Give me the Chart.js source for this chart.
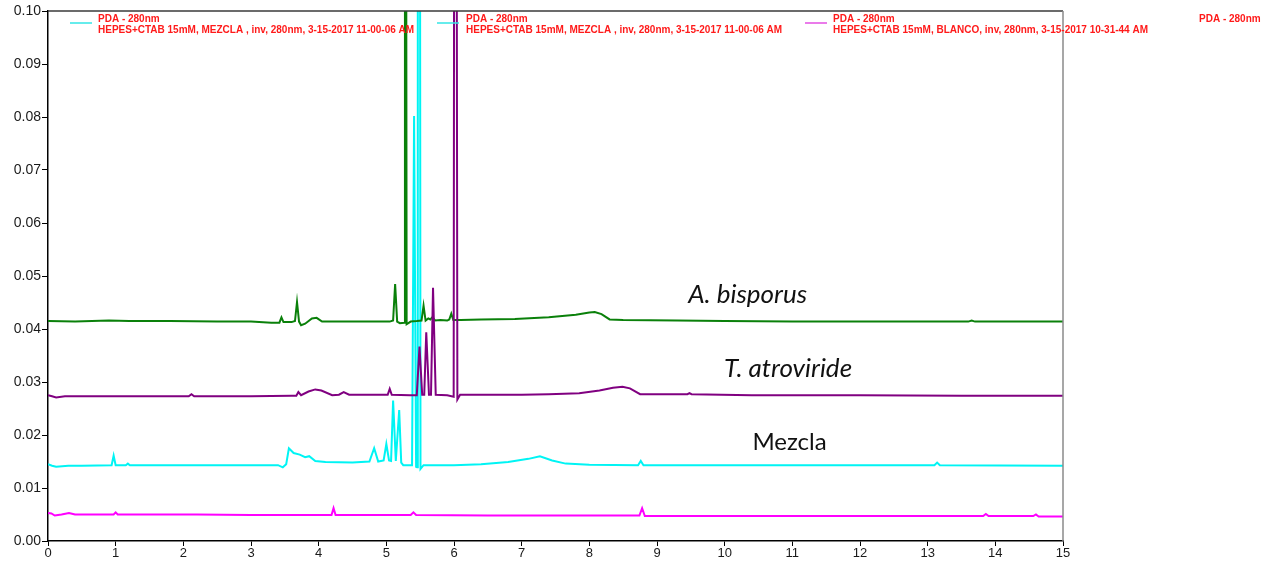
<!DOCTYPE html>
<html>
<head>
<meta charset="utf-8">
<script src="https://cdn.jsdelivr.net/npm/chart.js@4.4.1/dist/chart.umd.min.js"></script>
<style>
  html, body { margin: 0; padding: 0; background: #fff; }
  #wrap { width: 1264px; height: 563px; }
</style>
</head>
<body>
<div id="wrap"><canvas id="crom" width="1264" height="563"></canvas></div>
<script>
// retention time (min) / absorbance (AU) at 280 nm

// A. bisporus
let abTime = [0, 0.4, 0.9, 1.2, 1.8, 2.5, 3.0, 3.3, 3.42, 3.45, 3.48, 3.6, 3.65, 3.68, 3.71, 3.74, 3.8, 3.9, 3.97, 4.05,
  4.5, 5.05, 5.1, 5.13, 5.16, 5.2, 5.265, 5.275, 5.29, 5.30, 5.36, 5.45, 5.52, 5.55, 5.58, 5.62, 5.65, 5.68, 5.72, 5.8,
  5.9, 5.93, 5.96, 5.99, 6.1, 6.4, 6.9, 7.4, 7.8, 8.0, 8.08, 8.18, 8.3, 8.5, 9.3, 10, 11, 12, 13, 13.6,
  13.65, 13.7, 14.5, 15];
let abVal = [0.0415, 0.0414, 0.0416, 0.0415, 0.0415, 0.0414, 0.0414, 0.0412, 0.0412, 0.0422, 0.0413, 0.0413, 0.0415, 0.0451, 0.0414, 0.0407, 0.0410, 0.0420, 0.0421, 0.0414,
  0.0414, 0.0414, 0.0416, 0.0485, 0.0414, 0.0411, 0.0412, 0.16, 0.16, 0.0409, 0.0414, 0.0415, 0.0416, 0.0444, 0.0416, 0.0420, 0.0418, 0.0422, 0.0416, 0.0417,
  0.0416, 0.0418, 0.0429, 0.0417, 0.0417, 0.0418, 0.0419, 0.0422, 0.0427, 0.0431, 0.0432, 0.0428, 0.0418, 0.0417, 0.0416, 0.0415, 0.0414, 0.0414, 0.0414, 0.0414,
  0.0416, 0.0414, 0.0414, 0.0414];

// T. atroviride
let taTime = [0, 0.06, 0.12, 0.25, 1.0, 2.08, 2.12, 2.16, 3.0, 3.6, 3.67, 3.70, 3.74, 3.85, 3.95, 4.04, 4.2, 4.3, 4.37, 4.45,
  4.9, 5.02, 5.05, 5.08, 5.35, 5.45, 5.49, 5.53, 5.56, 5.59, 5.63, 5.66, 5.69, 5.73, 5.9, 5.995, 6.005, 6.035, 6.05, 6.09,
  6.3, 7.0, 7.4, 7.85, 8.15, 8.35, 8.49, 8.6, 8.75, 9.45, 9.48, 9.51, 10.4, 12, 13.5, 15];
let taVal = [0.0275, 0.0273, 0.0271, 0.0273, 0.0273, 0.0273, 0.0277, 0.0273, 0.0273, 0.0274, 0.0274, 0.0281, 0.0275, 0.0282, 0.0286, 0.0284, 0.0275, 0.0276, 0.0281, 0.0276,
  0.0276, 0.0276, 0.0287, 0.0276, 0.0275, 0.0275, 0.0367, 0.0276, 0.0276, 0.0394, 0.0276, 0.0276, 0.0478, 0.0276, 0.0275, 0.0272, 0.16, 0.16, 0.0267, 0.0276,
  0.0276, 0.0276, 0.0277, 0.0279, 0.0284, 0.0289, 0.0291, 0.0288, 0.0277, 0.0277, 0.0279, 0.0277, 0.0275, 0.0275, 0.0274, 0.0274];

// Mezcla
let mzTime = [0, 0.06, 0.12, 0.3, 0.5, 0.94, 0.97, 1.0, 1.15, 1.18, 1.21, 2.0, 3.0, 3.4, 3.47, 3.52, 3.56, 3.63, 3.72, 3.8,
  3.86, 3.95, 4.1, 4.5, 4.75, 4.82, 4.88, 4.96, 5.0, 5.04, 5.07, 5.10, 5.14, 5.19, 5.22, 5.25, 5.38, 5.41, 5.44, 5.455,
  5.465, 5.495, 5.505, 5.55, 6.0, 6.4, 6.8, 7.1, 7.27, 7.45, 7.65, 8.0, 8.72, 8.76, 8.8, 10, 13.1, 13.14, 13.18, 15];
let mzVal = [0.0145, 0.0142, 0.0140, 0.0142, 0.0142, 0.0143, 0.0161, 0.0143, 0.0143, 0.0146, 0.0143, 0.0143, 0.0143, 0.0143, 0.0139, 0.0145, 0.0175, 0.0166, 0.0163, 0.0158,
  0.0160, 0.0151, 0.0149, 0.0148, 0.0150, 0.0175, 0.0150, 0.0152, 0.0183, 0.0152, 0.0151, 0.0265, 0.0151, 0.0247, 0.0148, 0.0143, 0.0143, 0.0802, 0.0140, 0.0139,
  0.16, 0.16, 0.0136, 0.0143, 0.0143, 0.0145, 0.0149, 0.0155, 0.0160, 0.0152, 0.0146, 0.0144, 0.0143, 0.0151, 0.0143, 0.0143, 0.0143, 0.0148, 0.0143, 0.0142];

// Blanco
let blTime = [0, 0.05, 0.1, 0.2, 0.31, 0.4, 0.6, 0.97, 1.0, 1.03, 1.4, 2.2, 3.0, 4.1, 4.19, 4.22, 4.25, 4.8, 5.36, 5.4,
  5.44, 6.5, 8.0, 8.74, 8.78, 8.82, 9.5, 11, 13.82, 13.86, 13.9, 14.56, 14.6, 14.64, 15];
let blVal = [0.0053, 0.0052, 0.0048, 0.0050, 0.0053, 0.0050, 0.0050, 0.0050, 0.0054, 0.0050, 0.0050, 0.0050, 0.0049, 0.0049, 0.0049, 0.0062, 0.0049, 0.0049, 0.0049, 0.0054,
  0.0049, 0.0048, 0.0048, 0.0048, 0.0062, 0.0047, 0.0047, 0.0047, 0.0047, 0.0051, 0.0047, 0.0047, 0.0050, 0.0046, 0.0046];

let xTicks = [0, 1, 2, 3, 4, 5, 6, 7, 8, 9, 10, 11, 12, 13, 14, 15];
let yTicks = [0.00, 0.01, 0.02, 0.03, 0.04, 0.05, 0.06, 0.07, 0.08, 0.09, 0.10];

// curve names written inside the plot
let tagText = ['A. bisporus', 'T. atroviride', 'Mezcla'];
let tagItalic = [true, true, false];
let tagAt = [[9.46, 0.0464], [9.99, 0.0326], [10.41, 0.0187]];

// instrument legend (pixel positions)
let legTitle = 'PDA - 280nm';
let legRows = [
  { line: '#33e6e6', x: 70, tx: 98, sub: 'HEPES+CTAB 15mM, MEZCLA , inv, 280nm, 3-15-2017 11-00-06 AM' },
  { line: '#33e6e6', x: 437, tx: 466, sub: 'HEPES+CTAB 15mM, MEZCLA , inv, 280nm, 3-15-2017 11-00-06 AM' },
  { line: '#e34fe3', x: 805, tx: 833, sub: 'HEPES+CTAB 15mM, BLANCO, inv, 280nm, 3-15-2017 10-31-44 AM' },
  { line: null, x: 0, tx: 1199, sub: '' }
];

function pts(t, v) {
  return t.map((x, i) => ({ x: x, y: v[i] }));
}

function trace(data, color) {
  return {
    data: data,
    borderColor: color,
    borderWidth: 2,
    pointRadius: 0,
    tension: 0,
    fill: false
  };
}

const frame = {
  id: 'frame',
  afterDraw(chart) {
    const c = chart.ctx, a = chart.chartArea;
    c.save();
    c.lineWidth = 1.5;
    c.strokeStyle = '#3a3a3a';
    c.beginPath();
    c.moveTo(a.left, a.top);
    c.lineTo(a.right, a.top);
    c.stroke();
    c.strokeStyle = '#8a8a8a';
    c.beginPath();
    c.moveTo(a.right, a.top);
    c.lineTo(a.right, a.bottom);
    c.stroke();
    c.restore();
  }
};

const tags = {
  id: 'tags',
  afterDatasetsDraw(chart) {
    const c = chart.ctx, sx = chart.scales.x, sy = chart.scales.y;
    c.save();
    c.fillStyle = '#111';
    c.textBaseline = 'middle';
    c.textAlign = 'left';
    tagText.forEach((t, i) => {
      c.font = tagItalic[i] ? 'italic 26px Lato, "Liberation Sans", sans-serif' : '24px Lato, "Liberation Sans", sans-serif';
      c.fillText(t, sx.getPixelForValue(tagAt[i][0]), sy.getPixelForValue(tagAt[i][1]));
    });
    c.restore();
  }
};

const pdaLegend = {
  id: 'pdaLegend',
  afterDraw(chart) {
    const c = chart.ctx;
    c.save();
    c.font = 'bold 10px "Liberation Sans", Arial, sans-serif';
    c.textBaseline = 'middle';
    c.textAlign = 'left';
    legRows.forEach((r) => {
      if (r.line) {
        c.strokeStyle = r.line;
        c.lineWidth = 1.5;
        c.beginPath();
        c.moveTo(r.x, 23);
        c.lineTo(r.x + 22, 23);
        c.stroke();
      }
      c.fillStyle = '#ff1a1a';
      c.fillText(legTitle, r.tx, 19);
      if (r.sub) c.fillText(r.sub, r.tx, 30);
    });
    c.restore();
  }
};

new Chart(document.getElementById('crom').getContext('2d'), {
  type: 'line',
  data: {
    datasets: [
      trace(pts(blTime, blVal), '#ff00ff'),
      trace(pts(taTime, taVal), '#800080'),
      trace(pts(abTime, abVal), '#0a800a'),
      trace(pts(mzTime, mzVal), '#00f4f4')
    ]
  },
  options: {
    responsive: false,
    animation: false,
    layout: { padding: { top: 11, right: 201, left: 0, bottom: 0 } },
    plugins: {
      legend: { display: false },
      tooltip: { enabled: false }
    },
    scales: {
      x: {
        type: 'linear',
        min: 0,
        max: 15,
        afterBuildTicks(s) { s.ticks = xTicks.map((v) => ({ value: v })); },
        afterFit(s) { s.height = 22; },
        ticks: {
          color: '#1a1a1a',
          padding: 0,
          maxRotation: 0,
          font: { family: '"Liberation Sans", Arial, sans-serif', size: 13 },
          callback: (v) => String(v)
        },
        grid: { display: true, drawOnChartArea: false, drawTicks: true, tickLength: 5, color: '#000' },
        border: { display: true, color: '#000', width: 1.5 }
      },
      y: {
        type: 'linear',
        min: 0,
        max: 0.1,
        afterBuildTicks(s) { s.ticks = yTicks.map((v) => ({ value: v })); },
        afterFit(s) { s.width = 48; },
        ticks: {
          color: '#1a1a1a',
          padding: 1,
          font: { family: '"Liberation Sans", Arial, sans-serif', size: 14 },
          callback: (v) => Number(v).toFixed(2)
        },
        grid: { display: true, drawOnChartArea: false, drawTicks: true, tickLength: 6, color: '#000' },
        border: { display: true, color: '#000', width: 1.5 }
      }
    }
  },
  plugins: [frame, tags, pdaLegend]
});
</script>
</body>
</html>
